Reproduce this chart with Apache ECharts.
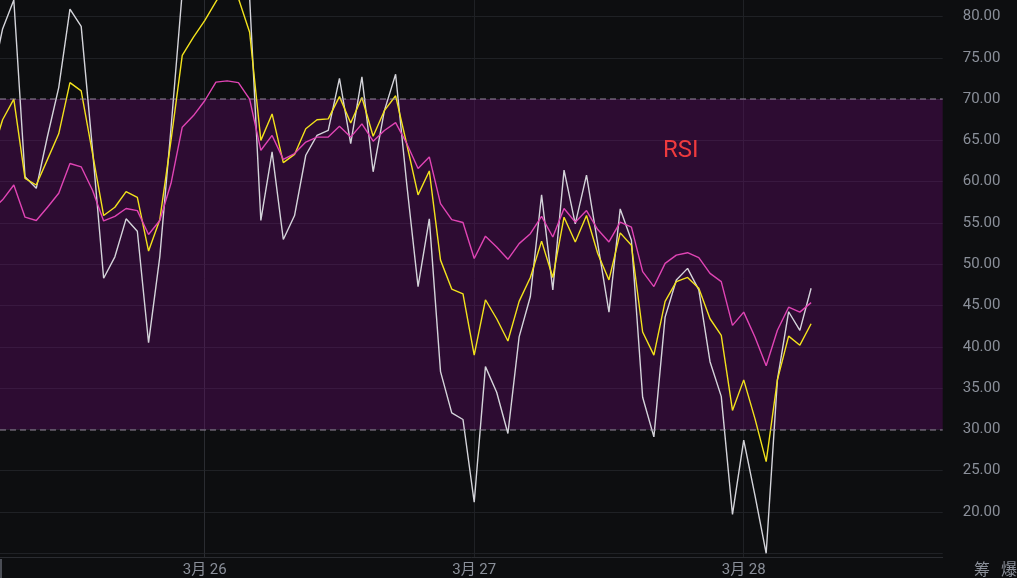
<!DOCTYPE html>
<html>
<head>
<meta charset="utf-8">
<script src="https://cdn.jsdelivr.net/npm/echarts@6/dist/echarts.min.js"></script>
<style>
html,body{margin:0;padding:0;background:#0d0e10;}
#chart{width:1017px;height:578px;}
</style>
</head>
<body>
<div id="chart"></div>
<script>
// hourly samples, hour offsets relative to 3月26 00:00, first sample at startHour
const startHour = -19;
const dayTicks = [0, 24, 48];
const dayLabels = ['3月 26', '3月 27', '3月 28'];
const yLabelValues = [20, 25, 30, 35, 40, 45, 50, 55, 60, 65, 70, 75, 80];
const yLineValues = [15, 20, 25, 30, 35, 40, 45, 50, 55, 60, 65, 70, 75, 80];
const bandLevels = [30, 70];

const whiteRSI = [
  72, 78.5, 82, 60.6, 59.2, 65.5, 71.4, 80.9, 78.8, 64.0,
  48.3, 50.9, 55.5, 54.0, 40.5, 50.9, 66.5, 83, 87, 89,
  90.5, 91, 88, 82.3, 55.3, 63.6, 53.0, 55.9, 63.2, 65.6,
  66.2, 72.5, 64.6, 72.7, 61.2, 68.6, 73.0, 59.6, 47.3, 55.5,
  37.0, 32.0, 31.2, 21.2, 37.6, 34.5, 29.5, 41.2, 46.1, 58.4,
  46.9, 61.4, 54.9, 60.8, 52.5, 44.2, 56.7, 52.9, 33.9, 29.1,
  43.6, 48.1, 49.5, 46.9, 38.2, 34.0, 19.7, 28.7, 22.0, 15.0,
  36.0, 44.25, 42.0, 47.1
];
const yellowRSI = [
  63, 67.5, 70.0, 60.4, 59.6, 62.7, 65.8, 72.0, 71.0, 63.5,
  55.9, 56.9, 58.8, 58.1, 51.6, 55.4, 65.0, 75.3, 77.5, 79.5,
  81.8, 84.0, 82.2, 78.1, 65.0, 68.2, 62.3, 63.3, 66.4, 67.5,
  67.6, 70.3, 67.1, 70.2, 65.5, 68.6, 70.4, 64.5, 58.4, 61.3,
  50.5, 47.0, 46.4, 39.0, 45.7, 43.4, 40.7, 45.5, 48.4, 52.8,
  48.4, 55.7, 52.7, 55.9, 51.3, 48.1, 53.8, 52.3, 41.8, 39.0,
  45.5, 47.9, 48.4, 47.1, 43.4, 41.4, 32.3, 36.0, 31.3, 26.1,
  36.0, 41.3, 40.2, 42.8
];
const pinkRSI = [
  56.5, 57.8, 59.6, 55.7, 55.3, 56.9, 58.6, 62.2, 61.8, 59.0,
  55.25, 55.8, 56.75, 56.5, 53.6, 55.3, 59.8, 66.6, 68.0, 69.8,
  72.05, 72.2, 72.0, 70.0, 63.8, 65.6, 62.7, 63.4, 64.8, 65.4,
  65.4, 66.7, 65.4, 67.0, 64.9, 66.2, 67.15, 64.6, 61.6, 63.0,
  57.35, 55.4, 55.05, 50.7, 53.4, 52.1, 50.6, 52.5, 53.7, 55.8,
  53.3, 56.75, 55.1, 56.5, 54.2, 52.7, 55.1, 54.5, 49.1, 47.3,
  50.1, 51.1, 51.4, 50.8, 48.9, 47.9, 42.6, 44.2, 41.2, 37.7,
  42.0, 44.8, 44.2, 45.35
];

const toPairs = arr => arr.map((v, i) => [startHour + i, v]);
const FONT = 'Roboto, "Noto Sans CJK SC", sans-serif';
const gridColor = '#1f2125';
const labelColor = '#8a8f99';

const chart = echarts.init(document.getElementById('chart'), null, {renderer: 'canvas'});
chart.setOption({
  animation: false,
  backgroundColor: '#0d0e10',
  grid: {left: 0, right: 74.3, top: 0, bottom: 21, containLabel: false},
  xAxis: {
    type: 'value',
    min: -18.23,
    max: 65.72,
    axisLine: {show: true, lineStyle: {color: '#2a2c31', width: 1}},
    axisTick: {show: false, customValues: dayTicks},
    axisLabel: {
      customValues: dayTicks,
      formatter: v => dayLabels[dayTicks.indexOf(v)] || '',
      color: labelColor, fontSize: 15, fontFamily: FONT, margin: 6
    },
    splitLine: {show: true, lineStyle: {color: gridColor, width: 1}}
  },
  yAxis: {
    type: 'value',
    position: 'right',
    min: 14.55,
    max: 82.0,
    axisLine: {show: true, lineStyle: {color: '#2a2c31', width: 1}},
    axisTick: {show: true, customValues: yLineValues, length: 7, lineStyle: {color: gridColor}},
    axisLabel: {
      customValues: yLabelValues,
      formatter: v => v.toFixed(2),
      color: labelColor, fontSize: 15, fontFamily: FONT, margin: 20
    },
    splitLine: {show: true, lineStyle: {color: gridColor, width: 1}}
  },
  series: [
    {
      name: 'RSI1', type: 'line', data: toPairs(whiteRSI), showSymbol: false,
      lineStyle: {color: '#d4d4da', width: 1.4}, z: 3,
      markArea: {
        silent: true,
        itemStyle: {color: 'rgba(112,10,122,0.33)'},
        data: [[{yAxis: bandLevels[0]}, {yAxis: bandLevels[1]}]]
      },
      markLine: {
        silent: true, symbol: 'none', label: {show: false},
        lineStyle: {color: 'rgba(160,150,170,0.6)', type: [6, 4], width: 1.5},
        data: bandLevels.map(v => ({yAxis: v}))
      }
    },
    {
      name: 'RSI2', type: 'line', data: toPairs(yellowRSI), showSymbol: false,
      lineStyle: {color: '#f2e21c', width: 1.4}, z: 4
    },
    {
      name: 'RSI3', type: 'line', data: toPairs(pinkRSI), showSymbol: false,
      lineStyle: {color: '#e044b4', width: 1.4}, z: 5
    }
  ],
  graphic: [
    {type: 'text', z: 100, left: 663, top: 139, style: {text: 'RSI', fill: '#ee3a3e', fontSize: 24, fontFamily: FONT}},
    {type: 'text', z: 100, left: 974, top: 561, style: {text: '筹', fill: labelColor, fontSize: 16, fontFamily: '"Noto Sans CJK SC", sans-serif'}},
    {type: 'text', z: 100, left: 1001, top: 561, style: {text: '爆', fill: labelColor, fontSize: 16, fontFamily: '"Noto Sans CJK SC", sans-serif'}},
    {type: 'rect', z: 100, left: 0, top: 559, shape: {width: 2, height: 19}, style: {fill: '#4a4d55'}}
  ]
});
</script>
</body>
</html>
